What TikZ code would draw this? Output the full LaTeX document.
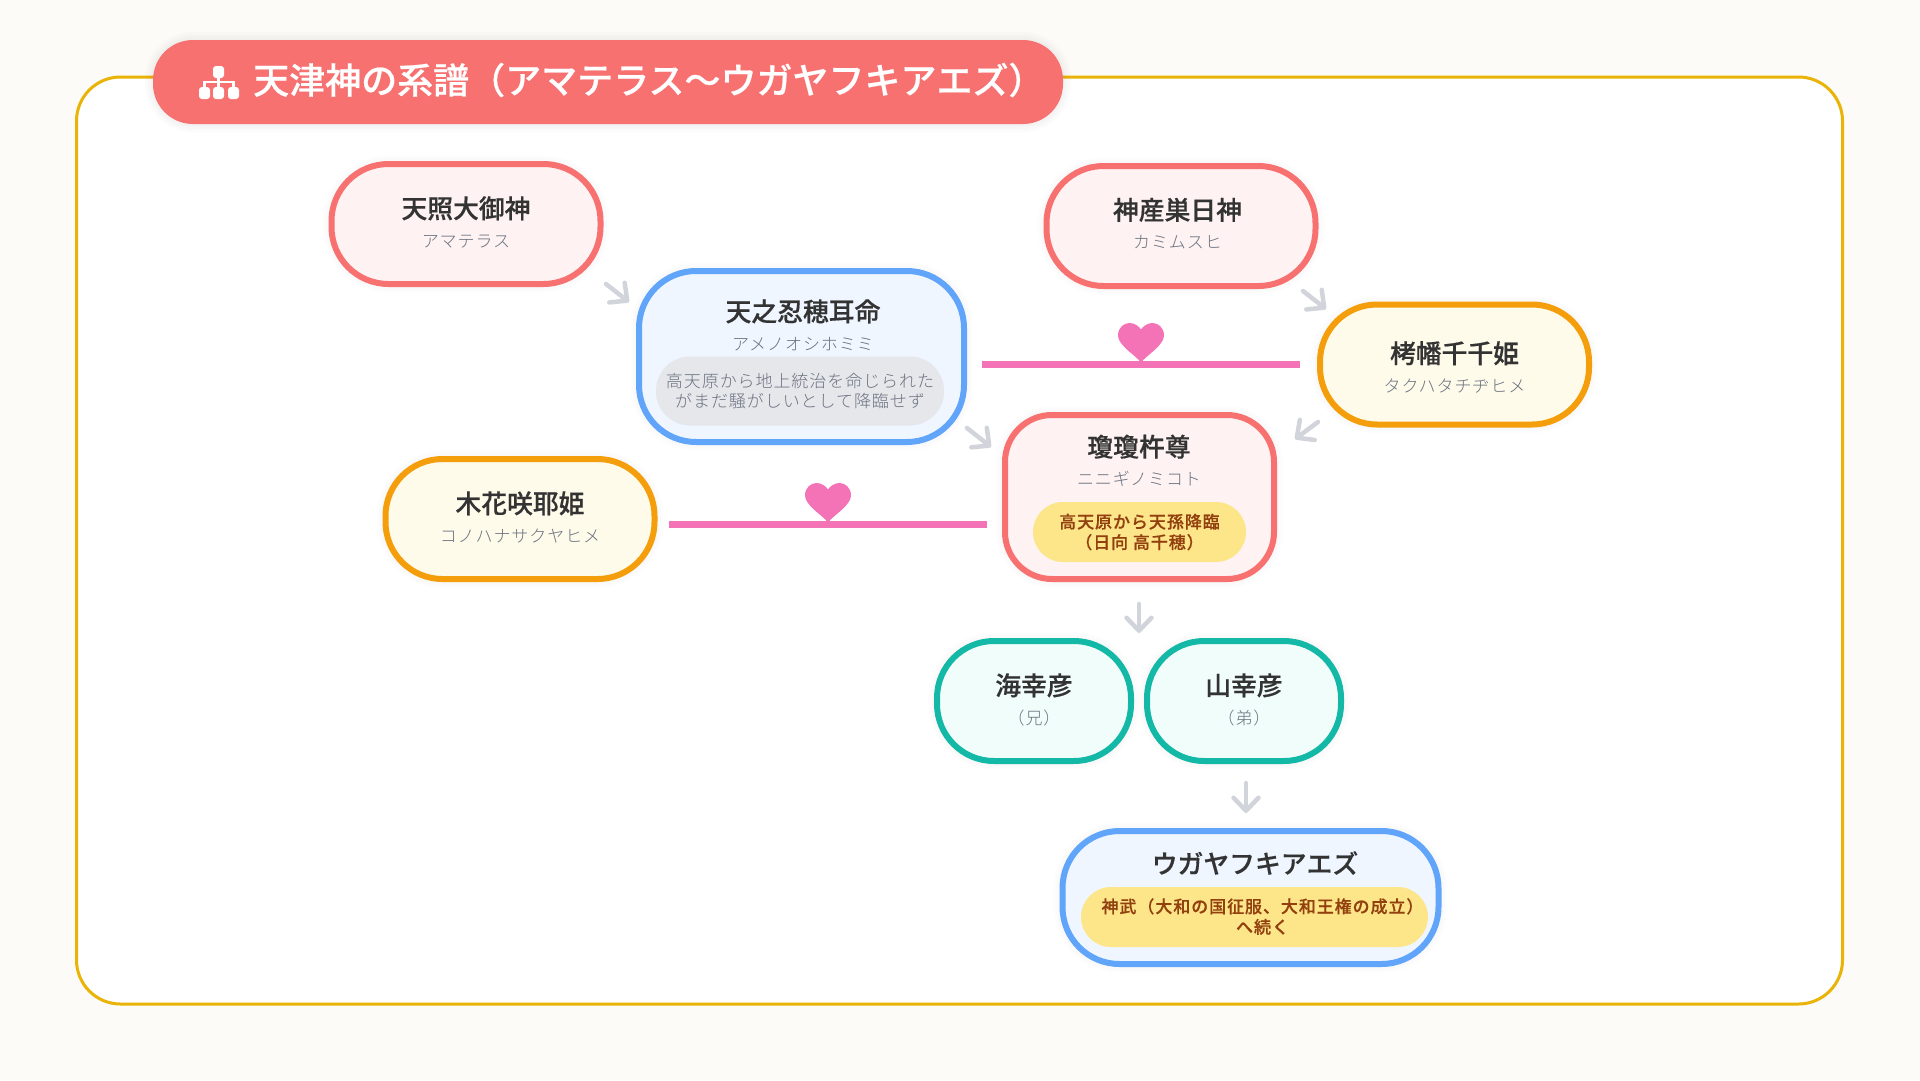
\documentclass[tikz,border=0pt]{standalone}
\usepackage{fontspec}
\setmainfont{Noto Sans CJK JP}
\newfontfamily\namefont[FakeBold=.5]{Noto Sans CJK JP Medium}
\newfontfamily\kanafont[LetterSpace=5.5]{Noto Sans CJK JP Light}
\newfontfamily\notefont[LetterSpace=5.5,FakeBold=.4]{Noto Sans CJK JP Medium}
\usetikzlibrary{arrows.meta,positioning,calc}

\definecolor{pagebg}{HTML}{FDFBF7}
\definecolor{framegold}{HTML}{EAB308}
\definecolor{redline}{HTML}{F87171}
\definecolor{redfill}{HTML}{FEF2F2}
\definecolor{blueline}{HTML}{60A5FA}
\definecolor{bluefill}{HTML}{EFF6FF}
\definecolor{amberline}{HTML}{F59E0B}
\definecolor{amberfill}{HTML}{FFFBEB}
\definecolor{tealline}{HTML}{14B8A6}
\definecolor{tealfill}{HTML}{F0FDFA}
\definecolor{pillyellow}{HTML}{FDE68A}
\definecolor{pillbrown}{HTML}{92400E}
\definecolor{pillgrey}{HTML}{E5E7EB}
\definecolor{notegrey}{HTML}{6B7280}
\definecolor{kanagrey}{HTML}{6B7280}
\definecolor{lovepink}{HTML}{F472B6}
\definecolor{flowgrey}{HTML}{D1D5DB}
\definecolor{namedark}{HTML}{333333}

\tikzset{
  softshadow/.style={preaction={draw=black,draw opacity=.006,line width=#1+12pt},
    preaction={draw=black,draw opacity=.006,line width=#1+8pt},
    preaction={draw=black,draw opacity=.006,line width=#1+4pt}},
  godbox/.style={softshadow=6pt, rounded corners=57pt, line width=6pt, outer sep=0pt, inner sep=0pt,
    minimum width=269pt, minimum height=120pt},
  redbox/.style={godbox, draw=redline, fill=redfill},
  bluebox/.style={godbox, draw=blueline, fill=bluefill},
  amberbox/.style={godbox, draw=amberline, fill=amberfill},
  tealbox/.style={godbox, draw=tealline, fill=tealfill, minimum width=194pt},
  godtext/.style={inner sep=0pt, align=center, text=namedark, font=\fontsize{25.8}{32}\selectfont},
  pill/.style={rounded corners=30pt, inner sep=0pt, outer sep=0pt, align=center,
    font=\notefont\fontsize{17}{20.5}\selectfont},
  yellowpill/.style={pill, fill=pillyellow, text=pillbrown},
  greypill/.style={pill, rounded corners=34pt, fill=pillgrey, text=notegrey, font=\kanafont\fontsize{17}{20.5}\selectfont},
  flow/.style={draw=flowgrey, line width=4.5pt, line cap=round, -{Straight Barb[length=13pt,width=25pt,round]}},
  marriage/.style={draw=lovepink, line width=7pt},
  loveheart/.pic={
    \fill[lovepink] (0,-2) .. controls (-5,-9) and (-23,-19) .. (-23,-29)
      .. controls (-23,-37) and (-17,-41.5) .. (-11.5,-41.5) .. controls (-6,-41.5) and (-2,-38) .. (0,-35)
      .. controls (2,-38) and (6,-41.5) .. (11.5,-41.5) .. controls (17,-41.5) and (23,-37) .. (23,-29)
      .. controls (23,-19) and (5,-9) .. (0,-2) -- cycle;
  }
}
\newcommand{\godlabel}[2]{{\namefont #1}\\[-3pt]{\kanafont\color{kanagrey}\fontsize{17}{20}\selectfont #2}}

\begin{document}
\begin{tikzpicture}[x=1pt, y=-1pt]
  \path[fill=pagebg, use as bounding box] (0,0) rectangle (1920,1080);
  \node[draw=framegold, fill=white, line width=3pt, rounded corners=44pt, minimum width=1766pt, minimum height=927pt, inner sep=0pt, outer sep=0pt] (panel) at (959.5,540.5) {};

  % heading
  \node[preaction={draw=black,draw opacity=.015,line width=16pt}, preaction={draw=black,draw opacity=.015,line width=10pt},
    preaction={draw=black,draw opacity=.015,line width=5pt},
    fill=redline, rounded corners=40pt, minimum width=910pt, minimum height=84pt, inner sep=0pt, outer sep=0pt] (heading) at (608,82) {};
  \node[anchor=west, text=white, inner sep=0pt, font=\namefont\fontsize{36}{40}\selectfont] (headingtext) at (253,80) {天津神の系譜（アマテラス～ウガヤフキアエズ）};
  \fill[white, rounded corners=3pt] (213,66) rectangle (224,78) (199,87) rectangle (210,99) (213,87) rectangle (224,99) (228,87) rectangle (239,99);
  \draw[white, line width=2.5pt] (218.5,78) -- (218.5,87) (204.5,87) -- (204.5,82) -- (233.5,82) -- (233.5,87);

  % gods
  \node[redbox] (amaterasu) at (466,224) {};
  \node[godtext] (amaterasuname) at (466,222) {\godlabel{天照大御神}{アマテラス}};
  \node[redbox] (kamimusuhi) at (1181,226) {};
  \node[godtext] (kamimusuhiname) at (1177.5,223.5) {\godlabel{神産巣日神}{カミムスヒ}};
  \node[amberbox] (takuhata) at (1454.5,364.5) {};
  \node[godtext] (takuhataname) at (1454.5,367) {\godlabel{栲幡千千姫}{タクハタチヂヒメ}};
  \node[amberbox] (konohana) at (520,519) {};
  \node[godtext] (konohananame) at (520,517) {\godlabel{木花咲耶姫}{コノハナサクヤヒメ}};

  \node[bluebox, minimum width=325pt, minimum height=171pt] (oshihomimi) at (801.5,356.5) {};
  \node[godtext] (oshihomiminame) at (803,325) {\godlabel{天之忍穂耳命}{アメノオシホミミ}};
  \node[greypill, minimum width=288pt, minimum height=69pt] (oshihomiminote) at (800,391) {高天原から地上統治を命じられた\\がまだ騒がしいとして降臨せず};

  \node[redbox, rounded corners=47pt, minimum height=164pt] (ninigi) at (1139.5,497) {};
  \node[godtext] (niniginame) at (1139,460.5) {\godlabel{瓊瓊杵尊}{ニニギノミコト}};
  \node[yellowpill, minimum width=213pt, minimum height=60pt] (niniginote) at (1139.5,532) {高天原から天孫降臨\\（日向 高千穂）};

  \node[tealbox] (umisachi) at (1034,701) {};
  \node[tealbox, right=16pt of umisachi] (yamasachi) {};
  \node[godtext] (umisachiname) at ($(umisachi)+(0,-1.5)$) {\godlabel{海幸彦}{（兄）}};
  \node[godtext] (yamasachiname) at ($(yamasachi)+(0,-1.5)$) {\godlabel{山幸彦}{（弟）}};

  \node[bluebox, minimum width=376pt, minimum height=133pt] (ugaya) at (1250.5,897.5) {};
  \node[godtext] (ugayaname) at (1255,863) {{\namefont ウガヤフキアエズ}};
  \node[yellowpill, minimum width=347pt, minimum height=60pt] (ugayanote) at (1254.5,917) {};
  \node[inner sep=0pt, align=center, text=pillbrown, font=\notefont\fontsize{17}{20.5}\selectfont] (ugayatext) at (1262.5,916.5) {神武（大和の国征服、大和王権の成立）\\へ続く};

  % couples
  \draw[marriage] ($(oshihomimi.east)+(18,8)$) -- ($(takuhata.west)+(-20,0)$) pic[midway]{loveheart};
  \draw[marriage] ($(konohana.east)+(14.5,5.5)$) -- ($(ninigi.west)+(-18,27.5)$) pic[midway]{loveheart};

  % descent
  \coordinate (f1a) at (606,284); \coordinate (f1b) at (629,302);
  \coordinate (f2a) at (967,428); \coordinate (f2b) at (991,447);
  \coordinate (f3a) at (1303,291); \coordinate (f3b) at (1326,309);
  \coordinate (f4a) at (1318,422); \coordinate (f4b) at (1295,439);
  \coordinate (f5a) at (1139,604); \coordinate (f5b) at (1139,633);
  \coordinate (f6a) at (1246,783); \coordinate (f6b) at (1246,813);
  \foreach \a/\b in {f1a/f1b,f2a/f2b,f3a/f3b,f4a/f4b,f5a/f5b,f6a/f6b}
    \draw[flow] (\a) -- (\b);
\end{tikzpicture}
\end{document}
